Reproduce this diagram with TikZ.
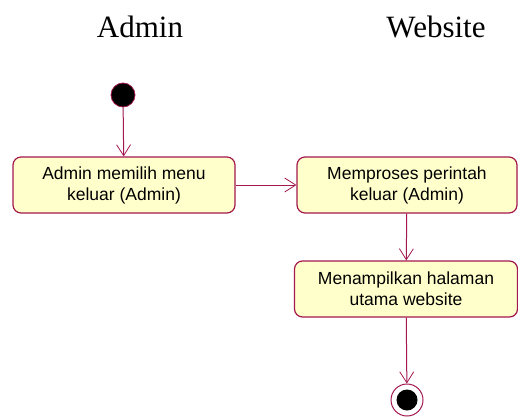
\documentclass[tikz,border=0pt]{standalone}
\usepackage{fontspec}
\setmainfont{Liberation Serif}
\newfontfamily\boxfont{Liberation Sans}
\usetikzlibrary{arrows.meta}
\definecolor{umlline}{HTML}{A3184E}
\definecolor{umlfill}{HTML}{FFFFCC}
\begin{document}
\begin{tikzpicture}[
    x=1pt, y=-1pt,
    lane/.style={font=\fontsize{31}{37}\selectfont},
    activity/.style={draw=umlline, fill=umlfill, rounded corners=8pt, line width=1.2pt, minimum width=222pt, minimum height=56pt, align=center, font=\boxfont\fontsize{17.5}{21}\selectfont},
    flow/.style={draw=umlline, line width=1pt, -{Straight Barb[length=11pt,width=14pt,line width=0.8pt]}}
]
\useasboundingbox (0,0) rectangle (518,417);

% Swimlane titles
\node[lane] (admin) at (140, 27) {Admin};
\node[lane] (web) at (436, 27) {Website};

% Admin lane
\node[circle, fill=black, draw=umlline, line width=0.8pt, minimum size=24pt, inner sep=0pt] (start) at (123, 95) {};
\node[activity] (pilih) at (124, 185) {Admin memilih menu\\keluar (Admin)};

% Website lane
\node[activity, minimum width=220pt] (proses) at (407, 185) {Memproses perintah\\keluar (Admin)};
\node[activity, minimum width=223pt] (tampil) at (406, 289) {Menampilkan halaman\\utama website};
\node[circle, draw=umlline, fill=white, line width=1pt, minimum size=32pt, inner sep=0pt] (finish) at (407, 400) {};
\node[circle, fill=black, minimum size=21pt, inner sep=0pt] at (finish) {};

% Flows
\draw[flow] (start) -- (pilih);
\draw[flow] (pilih) -- (proses);
\draw[flow] (proses) -- (tampil);
\draw[flow] (tampil) -- (finish);
\end{tikzpicture}
\end{document}
